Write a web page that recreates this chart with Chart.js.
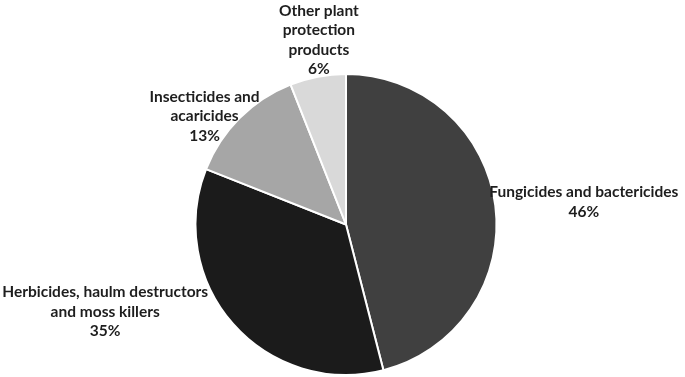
<!DOCTYPE html>
<html>
<head>
<meta charset="utf-8">
<script src="https://cdn.jsdelivr.net/npm/chart.js@4"></script>
<style>
  html, body { margin: 0; padding: 0; background: #fff; }
  #wrap { width: 685px; height: 377px; }
</style>
</head>
<body>
<div id="wrap"><canvas id="pieChart"></canvas></div>
<script>
const categories = ['Fungicides and bactericides', 'Herbicides, haulm destructors and moss killers', 'Insecticides and acaricides', 'Other plant protection products'];
const shares = [46, 35, 13, 6];
const labelLines = [
    ['Fungicides and bactericides'],
    ['Herbicides, haulm destructors', 'and moss killers'],
    ['Insecticides and', 'acaricides'],
    ['Other plant', 'protection', 'products']
];
const sliceColors = ['#404040', '#1b1b1b', '#a6a6a6', '#d9d9d9'];

// label centre, in pie radii from the pie centre
const labelOffsets = [[1.58, -0.15], [-1.6, 0.58], [-0.94, -0.72], [-0.18, -1.225]];

const pieLabels = {
    id: 'pieLabels',
    afterDraw(chart) {
        const ctx = chart.ctx;
        const meta = chart.getDatasetMeta(0);
        ctx.save();
        ctx.font = 'bold 15.5px Lato';
        ctx.fillStyle = '#1e1e1e';
        ctx.textAlign = 'center';
        ctx.textBaseline = 'middle';
        meta.data.forEach(function(arc, i) {
            const lines = labelLines[i].concat([shares[i] + '%']);
            const lh = 19.5;
            const cx = arc.x + labelOffsets[i][0] * arc.outerRadius;
            const cy = arc.y + labelOffsets[i][1] * arc.outerRadius;
            const top = cy - (lines.length - 1) * lh / 2;
            lines.forEach(function(t, j) {
                ctx.fillText(t, cx, top + j * lh);
            });
        });
        ctx.restore();
    }
};

const ctx = document.getElementById('pieChart').getContext('2d');
new Chart(ctx, {
    type: 'pie',
    data: {
        labels: categories,
        datasets: [{
            data: shares,
            backgroundColor: sliceColors,
            borderColor: '#ffffff',
            borderWidth: 2
        }]
    },
    options: {
        responsive: true,
        maintainAspectRatio: false,
        animation: false,
        layout: { padding: { top: 73, bottom: 1, left: 7, right: 0 } },
        plugins: {
            legend: { display: false },
            tooltip: { enabled: false }
        }
    },
    plugins: [pieLabels]
});
</script>
</body>
</html>
